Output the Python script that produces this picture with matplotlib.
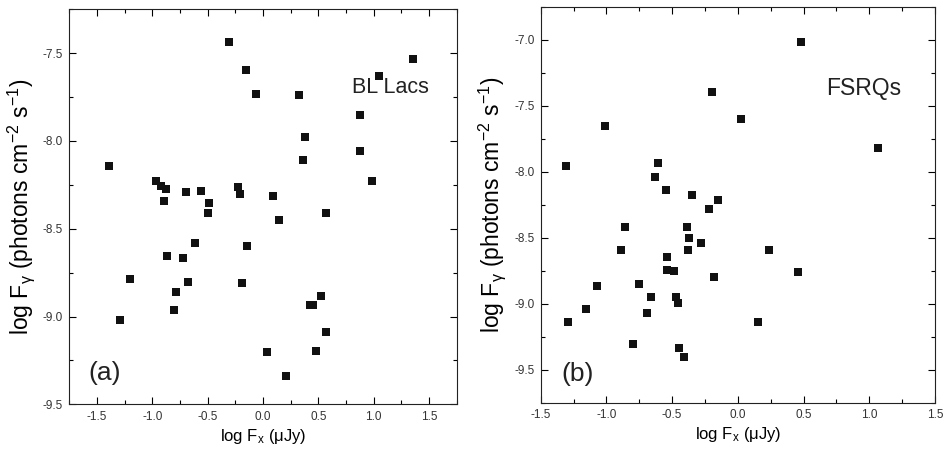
import numpy as np
import matplotlib
matplotlib.use("Agg")
import matplotlib.pyplot as plt
from matplotlib.ticker import MultipleLocator

plt.rcParams['font.family'] = ['Liberation Sans', 'DejaVu Sans']
plt.rcParams['mathtext.fontset'] = 'custom'
plt.rcParams['mathtext.rm'] = 'Liberation Sans'
plt.rcParams['mathtext.it'] = 'Liberation Sans'

# (a) BL Lacs: log Fx (uJy), log Fgamma
bl_x = [-1.395, -0.962, -0.925, -0.880, -0.898, -0.699, -0.564, -0.492, -0.501,
        -0.311, -0.149, -0.067, -0.230, -0.203, 0.090, 0.141, 0.330, 0.384,
        0.366, 0.571, 0.881, 0.881, 0.987, 1.044, 1.360,
        -0.618, -0.140, -0.871, -0.718, -1.205, -0.673, -0.185, -0.790,
        -0.808, -1.296, 0.425, 0.450, 0.520, 0.565, 0.032, 0.481, 0.204]
bl_y = [-8.143, -8.226, -8.254, -8.273, -8.341, -8.290, -8.284, -8.352, -8.413,
        -7.435, -7.594, -7.730, -8.264, -8.301, -8.313, -8.449, -7.736, -7.979,
        -8.109, -8.413, -7.854, -8.058, -8.226, -7.628, -7.532,
        -8.579, -8.596, -8.658, -8.669, -8.788, -8.805, -8.811, -8.862,
        -8.964, -9.020, -8.935, -8.935, -8.885, -9.088, -9.201, -9.196, -9.337]

# (b) FSRQs
fs_x = [0.483, -0.194, 0.027, -1.008, 1.069, -1.305, -0.605, -0.628, -0.546,
        -0.346, -0.148, -0.217, -0.856, -0.384, -0.369, -0.278, -0.887, -0.377,
        0.240, -0.537, -0.537, -0.483, 0.461, -0.179, -1.069, -0.750, -0.658,
        -0.468, -0.453, -1.153, -0.689, -1.290, 0.156, -0.795, -0.445, -0.407]
fs_y = [-7.015, -7.393, -7.597, -7.650, -7.823, -7.955, -7.937, -8.043, -8.141,
        -8.178, -8.216, -8.284, -8.418, -8.418, -8.503, -8.541, -8.594, -8.594,
        -8.594, -8.647, -8.745, -8.752, -8.760, -8.798, -8.866, -8.851, -8.949,
        -8.949, -8.994, -9.039, -9.069, -9.137, -9.137, -9.304, -9.334, -9.402]

fig = plt.figure(figsize=(9.49, 4.53), dpi=100)
ax1 = fig.add_axes([0.0730, 0.1075, 0.4082, 0.8720])
ax2 = fig.add_axes([0.5697, 0.1110, 0.4155, 0.8742])

ylab = r'log F$_\mathregular{\gamma}$ (photons cm$^\mathregular{-2}$ s$^\mathregular{-1}$)'
xlab = r'log F$_\mathregular{x}$ ($\mathregular{\mu}$Jy)'

panels = [
    (ax1, bl_x, bl_y, (-1.75, 1.75), (-9.5, -7.25), 'BL Lacs', (0.730, 0.789), 15.5, '(a)', (0.049, 0.062)),
    (ax2, fs_x, fs_y, (-1.5, 1.5), (-9.75, -6.75), 'FSRQs', (0.725, 0.777), 16.5, '(b)', (0.053, 0.055)),
]

for ax, x, y, xl, yl, name, npos, nsize, tag, tpos in panels:
    ax.plot(x, y, 's', color='#111111', ms=5.2, mew=0, clip_on=False)
    ax.set_xlim(*xl)
    ax.set_ylim(*yl)
    ax.xaxis.set_major_locator(MultipleLocator(0.5))
    ax.xaxis.set_minor_locator(MultipleLocator(0.25))
    ax.yaxis.set_major_locator(MultipleLocator(0.5))
    ax.yaxis.set_minor_locator(MultipleLocator(0.25))
    ax.xaxis.set_major_formatter(matplotlib.ticker.FormatStrFormatter('%.1f'))
    ax.yaxis.set_major_formatter(matplotlib.ticker.FormatStrFormatter('%.1f'))
    ax.tick_params(which='both', direction='in', top=True, right=True,
                   labelsize=8.5, labelcolor='#333333', width=0.8, pad=4.5)
    ax.tick_params(which='major', length=5)
    ax.tick_params(which='minor', length=3)
    for s in ax.spines.values():
        s.set_linewidth(0.8)
        s.set_color('#222222')
    ax.set_ylabel(ylab, fontsize=16.5, labelpad=4)
    ax.set_xlabel(xlab, fontsize=12, labelpad=3)
    ax.text(npos[0], npos[1], name, transform=ax.transAxes, fontsize=nsize,
            color='#222222', va='baseline')
    ax.text(tpos[0], tpos[1], tag, transform=ax.transAxes, fontsize=19,
            color='#222222', va='baseline')

fig.savefig('out.png', dpi=100)
